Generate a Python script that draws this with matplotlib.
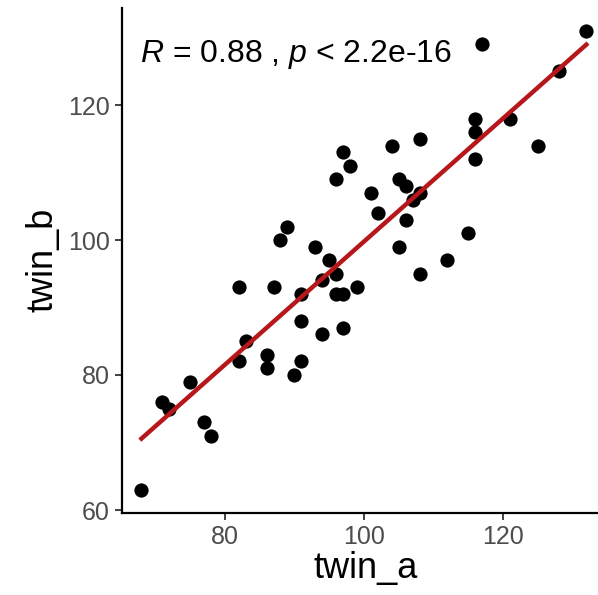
import numpy as np
import matplotlib
matplotlib.use("Agg")
import matplotlib.pyplot as plt

plt.rcParams['font.family'] = ['Liberation Sans', 'DejaVu Sans']
plt.rcParams['mathtext.fontset'] = 'custom'
plt.rcParams['mathtext.rm'] = 'Liberation Sans'
plt.rcParams['mathtext.it'] = 'Liberation Sans:italic'

twin_a = [68, 71, 72, 75, 77, 78, 82, 82, 83, 86, 86, 87, 88, 89, 90, 91, 91, 91,
          93, 94, 94, 95, 96, 96, 96, 97, 97, 97, 98, 99, 101, 102, 104, 105, 105,
          106, 106, 107, 108, 108, 108, 112, 115, 116, 116, 116, 117, 121, 125, 128, 132]
twin_b = [63, 76, 75, 79, 73, 71, 93, 82, 85, 83, 81, 93, 100, 102, 80, 92, 88, 82,
          99, 94, 86, 97, 95, 92, 109, 92, 113, 87, 111, 93, 107, 104, 114, 109, 99,
          108, 103, 106, 107, 115, 95, 97, 101, 118, 116, 112, 129, 118, 114, 125, 131]
x_ticks = [80, 100, 120]
y_ticks = [60, 80, 100, 120]
label = "$\\it{R}$ = 0.88 , $\\it{p}$ < 2.2e-16"

x = np.array(twin_a)
y = np.array(twin_b)
slope, icpt = np.polyfit(x, y, 1)
xs = np.array([x.min(), x.max()])

fig = plt.figure(figsize=(5.98, 5.95), dpi=100)
ax = fig.add_axes([122 / 598, 82.3 / 595, 486.6 / 598, 504.9 / 595])

ax.scatter(x, y, s=105, color='black', linewidths=0, zorder=2)
ax.plot(xs, slope * xs + icpt, color='#B5171B', linewidth=3.2, zorder=3)

ax.set_xlim(65.2, 135.2)
ax.set_ylim(59.6, 134.4)
ax.set_xticks(x_ticks)
ax.set_yticks(y_ticks)

for s in ['top', 'right']:
    ax.spines[s].set_visible(False)
for s in ['left', 'bottom']:
    ax.spines[s].set_linewidth(1.6)
    ax.spines[s].set_color('black')

ax.tick_params(length=5, width=1.3, color='#333333', labelcolor='#4D4D4D',
               labelsize=18, pad=4)

ax.set_xlabel('twin_a', fontsize=26, labelpad=1)
ax.set_ylabel('twin_b', fontsize=26, labelpad=5)

ax.text(67.8, 127.5, label, fontsize=23, va='center', ha='left', color='black')

plt.savefig('out.png', dpi=100)
